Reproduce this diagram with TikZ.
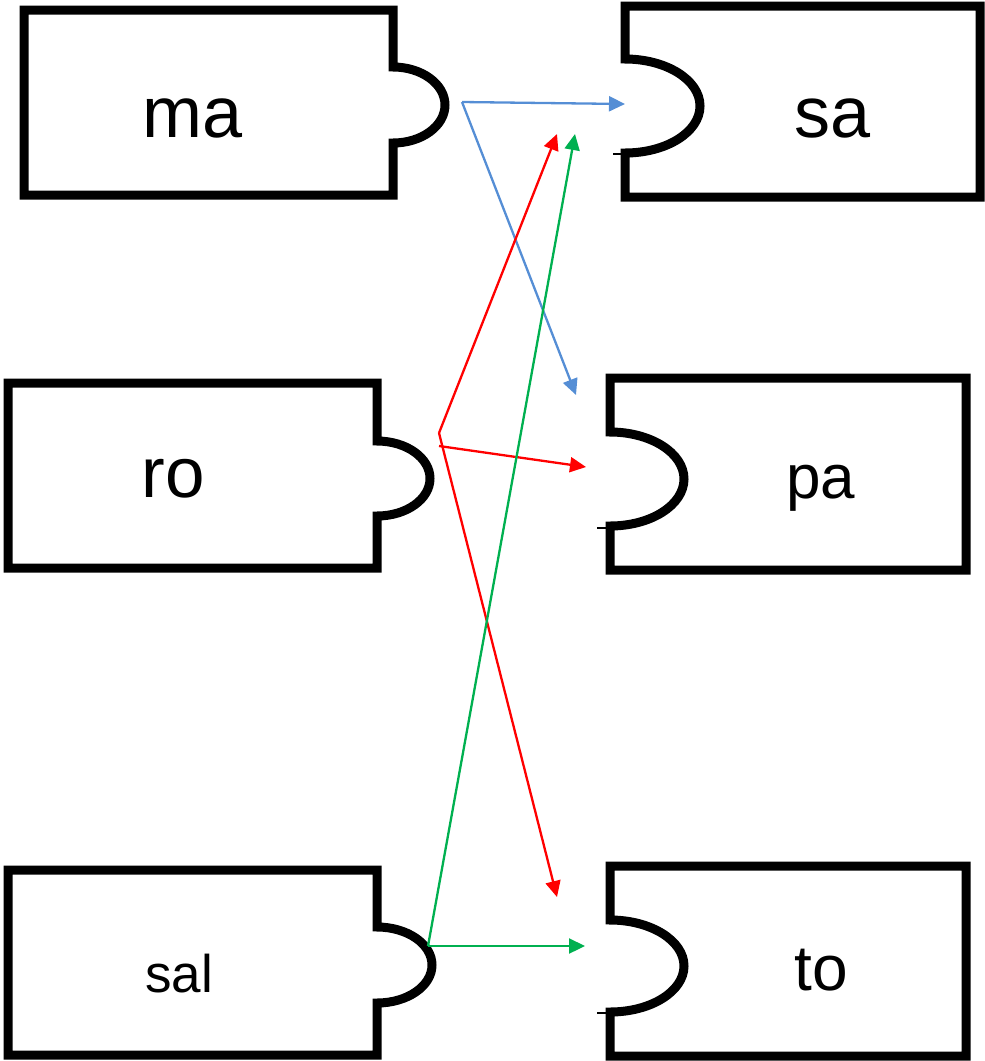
\documentclass[tikz,border=0pt]{standalone}
\usepackage{fontspec}
\setmainfont{Liberation Sans}
\usetikzlibrary{arrows.meta}
\definecolor{ablue}{RGB}{85,142,213}
\definecolor{ared}{RGB}{255,0,0}
\definecolor{agreen}{RGB}{0,176,80}
\begin{document}
\begin{tikzpicture}[x=1pt,y=-1pt,
  piece/.style={draw=black,line width=9pt,line join=miter},
  tick/.style={draw=black,line width=1.5pt},
  lbl/.style={anchor=base,inner sep=0pt,outer sep=0pt},
  conn/.style={line width=2.3pt,-{Triangle[length=16pt,width=15pt]}}]
\useasboundingbox (0,0) rectangle (985,1061);
% left pieces (tabs)
\path[piece] (393,67) -- (393,10) -- (24,10) -- (24,195) -- (393,195) -- (393,143)
  .. controls (421.7,143) and (445,126) .. (445,105)
  .. controls (445,84) and (421.7,67) .. (393,67) -- cycle;
\path[piece] (377,441) -- (377,383) -- (8,383) -- (8,568) -- (377,568) -- (377,516)
  .. controls (406.3,516) and (430,499.2) .. (430,478.5)
  .. controls (430,457.8) and (406.3,441) .. (377,441) -- cycle;
\path[piece] (377,927) -- (377,870) -- (8,870) -- (8,1055) -- (377,1055) -- (377,1003)
  .. controls (407.4,1003) and (432,986) .. (432,965)
  .. controls (432,944) and (407.4,927) .. (377,927) -- cycle;
% right pieces (sockets)
\path[piece] (625,59) -- (625,6) -- (980,6) -- (980,197) -- (625,197) -- (625,153)
  .. controls (666.4,153) and (700,132) .. (700,106)
  .. controls (700,80) and (666.4,59) .. (625,59) -- cycle;
\path[piece] (610,432) -- (610,378) -- (966,378) -- (966,570) -- (610,570) -- (610,526)
  .. controls (650.9,526) and (684,505) .. (684,479)
  .. controls (684,453) and (650.9,432) .. (610,432) -- cycle;
\path[piece] (610,920) -- (610,866) -- (966,866) -- (966,1056) -- (610,1056) -- (610,1012)
  .. controls (650.9,1012) and (684,991.4) .. (684,966)
  .. controls (684,940.6) and (650.9,920) .. (610,920) -- cycle;
\path[tick] (613,154) -- (625,154);
\path[tick] (597,528) -- (610,528);
\path[tick] (597,1013) -- (610,1013);
% labels
\node[lbl,font=\fontsize{72}{86}\selectfont] (ma) at (193,137) {ma};
\node[lbl,font=\fontsize{71}{86}\selectfont] (ro) at (173,497) {ro};
\node[lbl,font=\fontsize{53}{64}\selectfont] (sal) at (179,992) {sal};
\node[lbl,font=\fontsize{72}{86}\selectfont] (sa) at (833,137) {sa};
\node[lbl,font=\fontsize{62}{75}\selectfont] (pa) at (821,498) {pa};
\node[lbl,font=\fontsize{64}{77}\selectfont] (to) at (821,990) {to};
% connector ends
\coordinate (ma-out) at (462,102);
\coordinate (ro-out) at (439,433);
\coordinate (ro-out2) at (439,446);
\coordinate (sal-out) at (428,946);
\coordinate (sa-in) at (625,104);
\coordinate (sa-in-r) at (557,134);
\coordinate (sa-in-g) at (575,134);
\coordinate (pa-in-b) at (576,395);
\coordinate (pa-in-r) at (586,467);
\coordinate (to-in-r) at (557,897);
\coordinate (to-in-g) at (585,946);
% connectors
\draw[conn,ablue] (ma-out) -- (sa-in);
\draw[conn,ablue] (ma-out) -- (pa-in-b);
\draw[conn,ared] (ro-out) -- (sa-in-r);
\draw[conn,ared] (ro-out2) -- (pa-in-r);
\draw[conn,ared] (ro-out) -- (to-in-r);
\draw[conn,agreen] (sal-out) -- (sa-in-g);
\draw[conn,agreen] (sal-out) -- (to-in-g);
\end{tikzpicture}
\end{document}
